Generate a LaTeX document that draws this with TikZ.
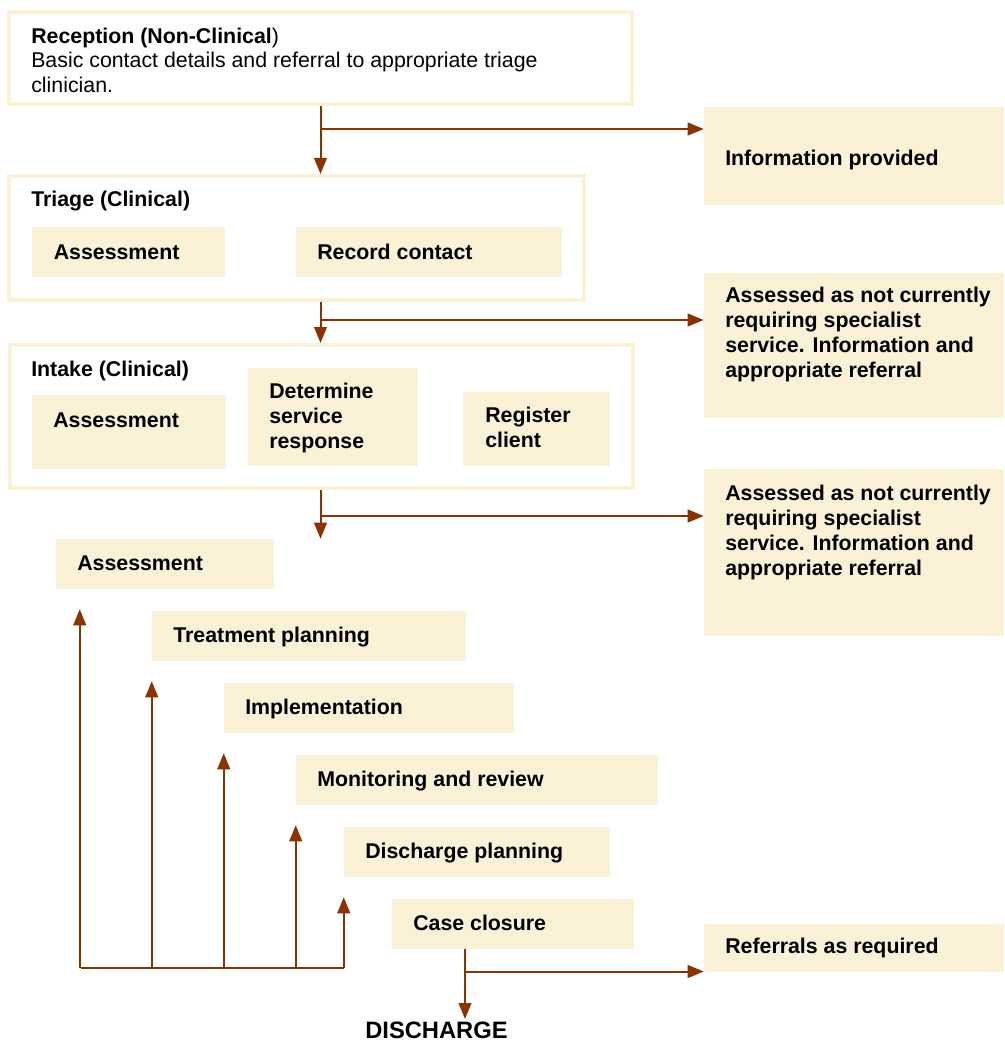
\documentclass[tikz,border=0pt]{standalone}
\usepackage{fontspec}
\setmainfont{Liberation Sans}
\usetikzlibrary{arrows.meta,fit}
\definecolor{cream}{RGB}{250,241,214}
\definecolor{rust}{RGB}{139,51,0}
\tikzset{
  frame/.style={draw=cream, line width=3pt, inner sep=0pt},
  cbox/.style={fill=cream, inner sep=0pt},
  txt/.style={anchor=base west, inner sep=0pt, align=left, font=\fontsize{16}{18.75}\selectfont\bfseries},
  line/.style={draw=rust, line width=1.5pt},
  arr/.style={line, -{Triangle[width=9.5pt,length=12pt]}}
}
\begin{document}
\begin{tikzpicture}[x=.75pt,y=-.75pt]
\useasboundingbox (0,0) rectangle (1004,1041);

\node[frame, fit={(9,12)(632,104.5)}] (rec) {};
\node[txt, font=\fontsize{16}{18.4}\selectfont] (rect) at (31,92.5) {\textbf{Reception (Non-Clinical})\\Basic contact details and referral to appropriate triage\\clinician.};

\node[frame, fit={(9,176)(584,299.5)}] (tri) {};
\node[txt] (trit) at (31,207) {Triage (Clinical)};
\node[cbox, fit={(32,227)(225,277)}] (tas) {};
\node[txt] (tast) at (53.5,259) {Assessment};
\node[cbox, fit={(296,227)(562,277)}] (trc) {};
\node[txt] (trct) at (317,259) {Record contact};

\node[frame, fit={(9.5,345)(633,488)}] (int) {};
\node[txt] (intt) at (31,376) {Intake (Clinical)};
\node[cbox, fit={(32,395)(226,469)}] (ias) {};
\node[txt] (iast) at (53,427) {Assessment};
\node[cbox, fit={(248,368)(418,466)}] (ids) {};
\node[txt] (idst) at (269,448) {Determine\\service\\response};
\node[cbox, fit={(463,392)(610,466)}] (irg) {};
\node[txt] (irgt) at (485,447) {Register\\client};

% outcomes on the right
\node[cbox, fit={(704,107)(1004,205.5)}] (inf) {};
\node[txt] (inft) at (725,166) {Information provided};
\node[cbox, fit={(704,273)(1004,418)}] (nr1) {};
\node[txt] (nr1t) at (725,377) {Assessed as not currently\\requiring specialist\\service. Information and\\appropriate referral};
\node[cbox, fit={(704,469)(1004,636)}] (nr2) {};
\node[txt] (nr2t) at (725,575) {Assessed as not currently\\requiring specialist\\service. Information and\\appropriate referral};
\node[cbox, fit={(704,924)(1004,972)}] (ref) {};
\node[txt] (reft) at (725,953) {Referrals as required};

% care steps
\foreach \k/\xa/\xb/\lab in {1/56/274/Assessment, 2/152/466/Treatment planning, 3/224/514/Implementation, 4/296/658/Monitoring and  review, 5/344/610/Discharge planning, 6/392/634/Case closure}{
    \node[cbox, fit={(\xa,467+72*\k)(\xb,517+72*\k)}] (s\k) {};
    \node[txt] (s\k t) at (\xa+21,498+72*\k) {\lab};
}
\node[txt, font=\fontsize{17.8}{20}\selectfont\bfseries] (dis) at (365,1038) {DISCHARGE};

\draw[arr] (rec.south) -- (rec.south |- tri.north);
\draw[arr] (rec.south |- tri.south) -- (rec.south |- int.north);
\draw[arr] (rec.south |- int.south) -- (rec.south |- s1.north);
\coordinate (b1) at (320.5,129);
\coordinate (b2) at (320.5,320);
\coordinate (b3) at (320.5,516);
\draw[arr] (b1) -- (b1 -| inf.west);
\draw[arr] (b2) -- (b2 -| nr1.west);
\draw[arr] (b3) -- (b3 -| nr2.west);

\coordinate (fb) at (80.5,968);
\draw[line] (fb) -- (fb -| s5.south west);
\path ([xshift=18pt]s1.south west) coordinate (a1);
\foreach \k in {2,...,5}{\path (s\k.south west) coordinate (a\k);}
\foreach \k in {1,...,5}{
    \draw[arr, shorten >=15pt] (a\k |- fb) -- (a\k);
}

\coordinate (c6) at (465,949);
\coordinate (b4) at (465,971.5);
\draw[arr] (c6) -- (c6 |- 0,1019);
\draw[arr] (b4) -- (b4 -| ref.west);
\end{tikzpicture}
\end{document}
